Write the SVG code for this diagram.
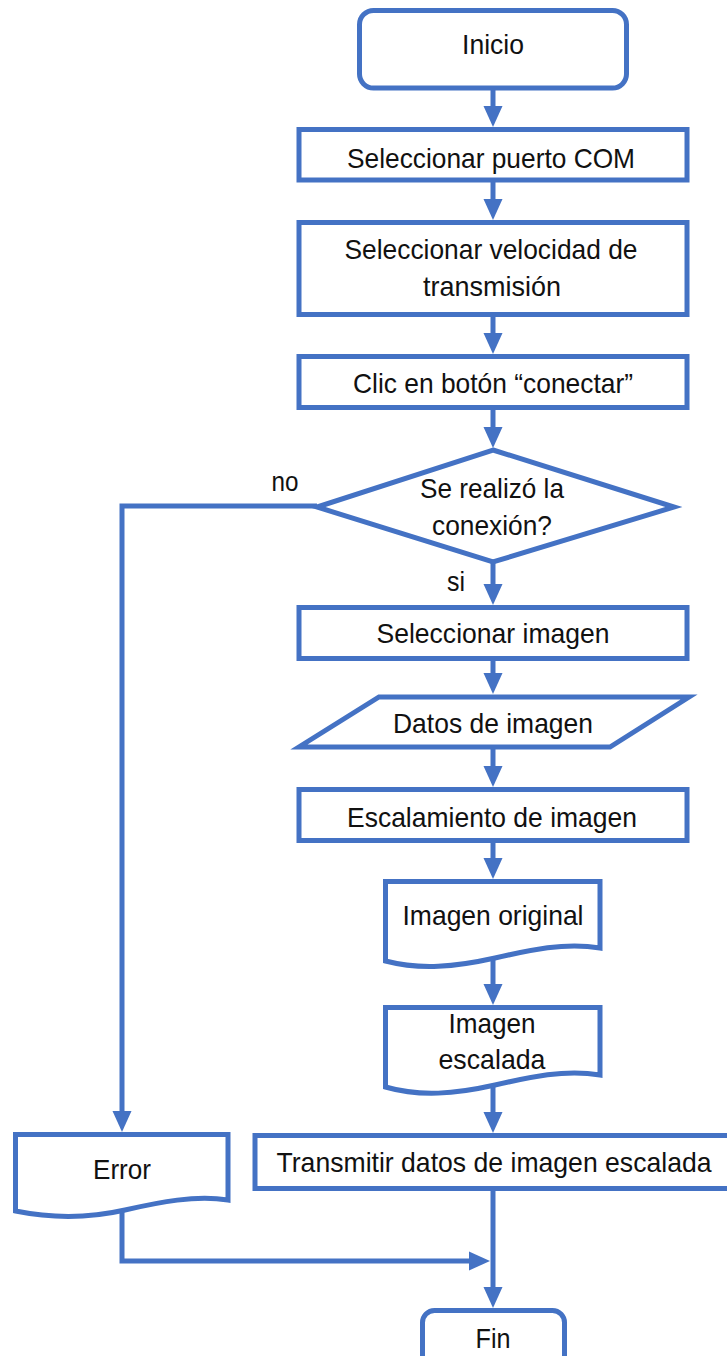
<svg xmlns="http://www.w3.org/2000/svg" width="727" height="1356" viewBox="0 0 727 1356">
  <defs>
    <style>
      .shape { fill: #ffffff; stroke: #4472C4; stroke-width: 5; stroke-linejoin: miter; }
      .edge { fill: none; stroke: #4472C4; stroke-width: 5; marker-end: url(#arrow); }
      .label { font-family: "Liberation Sans", Arial, sans-serif; font-size: 28px; fill: #111111; text-anchor: middle; }
    </style>
    <!-- filled arrowhead, tip sits 15px beyond the path end -->
    <marker id="arrow" markerUnits="userSpaceOnUse" markerWidth="21" markerHeight="19" refX="6" refY="9.5" orient="auto" overflow="visible">
      <path d="M0,0 L21,9.5 L0,19 Z" fill="#4472C4"/>
    </marker>
  </defs>

  <rect width="727" height="1356" fill="#ffffff"/>

  <!-- connectors -->
  <g id="connectors">
    <path class="edge" d="M493,88 V112"/>
    <path class="edge" d="M493,180 V205"/>
    <path class="edge" d="M493,314 V339"/>
    <path class="edge" d="M493,407 V433"/>
    <path class="edge" d="M493,562 V590"/>
    <path class="edge" d="M493,658 V679"/>
    <path class="edge" d="M493,747 V772"/>
    <path class="edge" d="M493,840 V864"/>
    <path class="edge" d="M493,956 V990"/>
    <path class="edge" d="M493,1080 V1118"/>
    <path class="edge" d="M493,1188 V1293"/>
    <!-- "no" branch to Error -->
    <path class="edge" d="M317,506 H122 V1117"/>
    <!-- Error joins the main line before Fin -->
    <path class="edge" d="M122,1212 V1261 H475"/>
  </g>

  <g id="inicio">
    <rect class="shape" x="359.5" y="10.5" width="267" height="77.5" rx="14"/>
    <text class="label" x="493" y="54" textLength="62" lengthAdjust="spacingAndGlyphs">Inicio</text>
  </g>

  <g id="puerto">
    <rect class="shape" x="299" y="129.5" width="388" height="50.5"/>
    <text class="label" x="491" y="168" textLength="288" lengthAdjust="spacingAndGlyphs">Seleccionar puerto COM</text>
  </g>

  <g id="velocidad">
    <rect class="shape" x="299" y="222.5" width="388" height="92"/>
    <text class="label" x="491" y="259" textLength="293" lengthAdjust="spacingAndGlyphs">Seleccionar velocidad de</text>
    <text class="label" x="492" y="296" textLength="138" lengthAdjust="spacingAndGlyphs">transmisión</text>
  </g>

  <g id="conectar">
    <rect class="shape" x="299" y="356.5" width="388" height="51"/>
    <text class="label" x="493" y="393" textLength="280" lengthAdjust="spacingAndGlyphs">Clic en botón “conectar”</text>
  </g>

  <g id="conexion">
    <polygon class="shape" points="493,450 674,507 493,562 317,507"/>
    <text class="label" x="492" y="498" textLength="144" lengthAdjust="spacingAndGlyphs">Se realizó la</text>
    <text class="label" x="492" y="535" textLength="120" lengthAdjust="spacingAndGlyphs">conexión?</text>
    <text class="label" x="285" y="491" textLength="27" lengthAdjust="spacingAndGlyphs">no</text>
    <text class="label" x="456" y="591" textLength="18" lengthAdjust="spacingAndGlyphs">si</text>
  </g>

  <g id="seleccionar-imagen">
    <rect class="shape" x="299" y="607.5" width="388" height="51"/>
    <text class="label" x="493" y="643" textLength="233" lengthAdjust="spacingAndGlyphs">Seleccionar imagen</text>
  </g>

  <g id="datos">
    <polygon class="shape" points="379,697 689,697 610,747 299,747"/>
    <text class="label" x="493" y="733" textLength="200" lengthAdjust="spacingAndGlyphs">Datos de imagen</text>
  </g>

  <g id="escalamiento">
    <rect class="shape" x="299" y="789.5" width="388" height="51"/>
    <text class="label" x="492" y="827" textLength="290" lengthAdjust="spacingAndGlyphs">Escalamiento de imagen</text>
  </g>

  <g id="imagen-original">
    <path class="shape" d="M385.5,881.5 H600 V948 C565,942 530,950 495,958 C455,967 420,970 385.5,961 Z"/>
    <text class="label" x="493" y="925" textLength="181" lengthAdjust="spacingAndGlyphs">Imagen original</text>
  </g>

  <g id="imagen-escalada">
    <path class="shape" d="M385.5,1007.5 H600 V1075 C565,1069 530,1077 495,1085 C455,1094 420,1097 385.5,1087 Z"/>
    <text class="label" x="492" y="1033" textLength="87" lengthAdjust="spacingAndGlyphs">Imagen</text>
    <text class="label" x="492" y="1069" textLength="107" lengthAdjust="spacingAndGlyphs">escalada</text>
  </g>

  <g id="transmitir">
    <!-- box runs to the right edge of the page, so its right side is not drawn -->
    <path class="shape" d="M729,1135.5 H255 V1188.5 H729"/>
    <text class="label" x="494" y="1172" textLength="435" lengthAdjust="spacingAndGlyphs">Transmitir datos de imagen escalada</text>
  </g>

  <g id="error">
    <path class="shape" d="M15.5,1134.5 H228 V1200 C195,1195 160,1202 125,1210 C90,1218 55,1219 15.5,1211 Z"/>
    <text class="label" x="122" y="1179" textLength="58" lengthAdjust="spacingAndGlyphs">Error</text>
  </g>

  <g id="fin">
    <rect class="shape" x="422.5" y="1310.5" width="142" height="70" rx="12"/>
    <text class="label" x="493" y="1348" textLength="35" lengthAdjust="spacingAndGlyphs">Fin</text>
  </g>
</svg>
